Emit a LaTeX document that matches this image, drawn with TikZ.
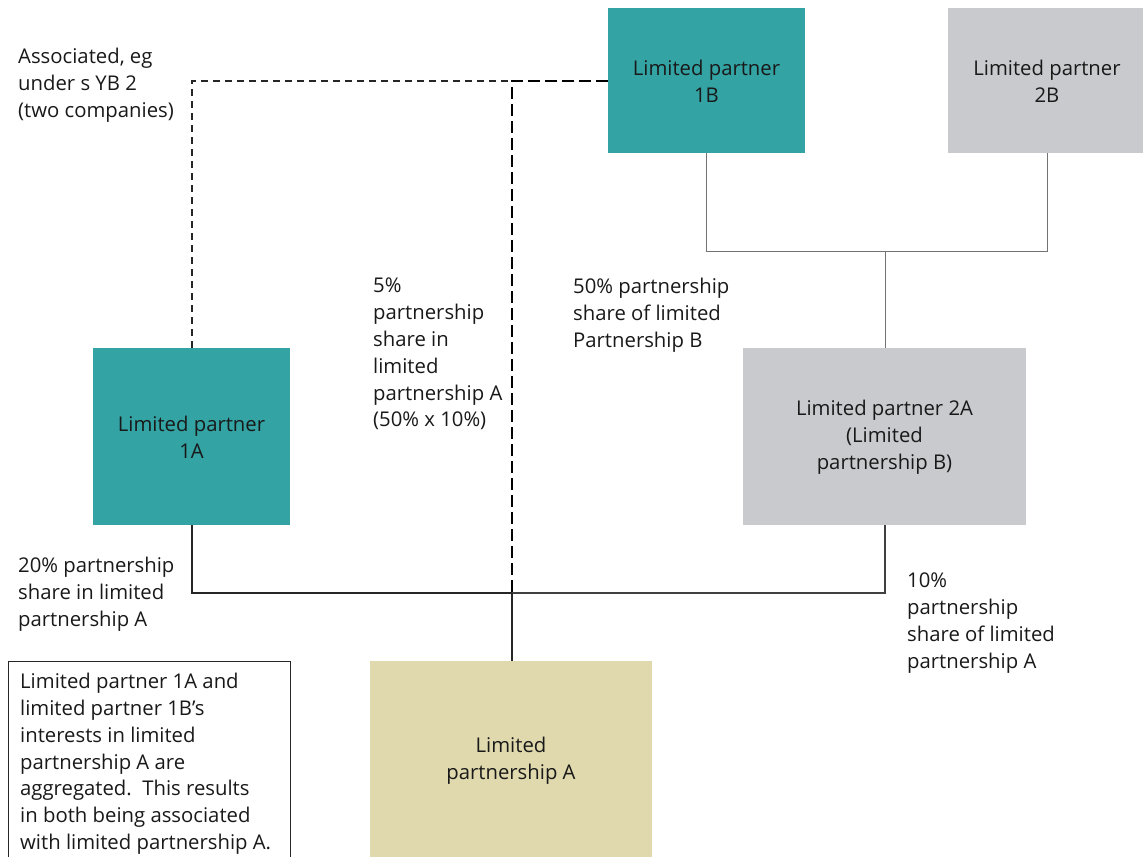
\documentclass[tikz,border=0pt]{standalone}
\usepackage{fontspec}
\setmainfont{Open Sans}
\begin{document}
\begin{tikzpicture}[x=1pt,y=-1pt,
  every node/.style={font=\fontsize{20.3}{26.8}\selectfont, text=black!90},
  box/.style={align=center, inner sep=0pt},
  lbl/.style={anchor=north west, align=left, inner sep=0pt},
  thinline/.style={draw=black!55, line width=0.8pt},
  solidline/.style={draw=black!85, line width=2.2pt},
  dashline/.style={draw=black!85, line width=1.3pt, dash pattern=on 7pt off 5pt},
  thickdash/.style={draw=black, line width=2.2pt, dash pattern=on 12pt off 5pt}]
\useasboundingbox (0,0) rectangle (1143,857);
\definecolor{teal1}{HTML}{33A3A4}
\definecolor{grey1}{HTML}{C8CACE}
\definecolor{khaki1}{HTML}{DFD9AD}

% boxes
\fill[teal1] (608,8) rectangle (805,153);
\node[box] (lp1b) at (706.5,81.5) {Limited partner\\1B};
\fill[grey1] (948,8) rectangle (1143,153);
\node[box] (lp2b) at (1047,81.5) {Limited partner\\2B};
\fill[teal1] (93,348) rectangle (290,525);
\node[box] (lp1a) at (191.5,437.5) {Limited partner\\1A};
\fill[grey1] (743,348) rectangle (1026,525);
\node[box] (lp2a) at (884.5,437) {Limited partner 2A\\(Limited\\partnership B)};
\fill[khaki1] (370,661) rectangle (652,857);
\node[box] (lpa) at (511,761) {Limited\\partnership A};
\draw[black!85, line width=1pt] (8,857) -- (8,661) -- (290,661) -- (290,857);

% ownership lines
\coordinate (j1) at (706,251);
\coordinate (j2) at (1047,251);
\coordinate (j3) at (885,251);
\draw[thinline] (706,153) -- (j1) -- (j2) -- (1047,153);
\draw[thinline] (j3) -- (885,348);
\coordinate (ja) at (192,593);
\coordinate (jm) at (512,593);
\coordinate (jb) at (885,593);
\draw[solidline] (192,525) -- (ja) -- (jm);
\draw[thinline, line width=1.2pt, draw=black!75] (jm) -- (jb) -- (885,525);
\draw[solidline, line width=2.4pt] (jm) -- (512,661);
\draw[dashline] (192,348) -- (192,81) -- (512,81);
\draw[thickdash] (608,81) -- (512,81) -- (jm);

% labels
\node[lbl] at (18,48) {Associated, eg\\under s YB 2\\(two companies)};
\node[lbl] at (373,278) {5\%\\partnership\\share in\\limited\\partnership A\\(50\% x 10\%)};
\node[lbl] at (573,278) {50\% partnership\\share of limited\\Partnership  B};
\node[lbl] at (18,557) {20\% partnership\\share in limited\\partnership A};
\node[lbl] at (907,573) {10\%\\partnership\\share of limited\\partnership A};
\node[lbl] at (20,673) {Limited partner 1A and\\limited partner 1B’s\\interests in limited\\partnership A are\\aggregated.\ \ This results\\in both being associated\\with limited partnership A.};
\end{tikzpicture}
\end{document}
